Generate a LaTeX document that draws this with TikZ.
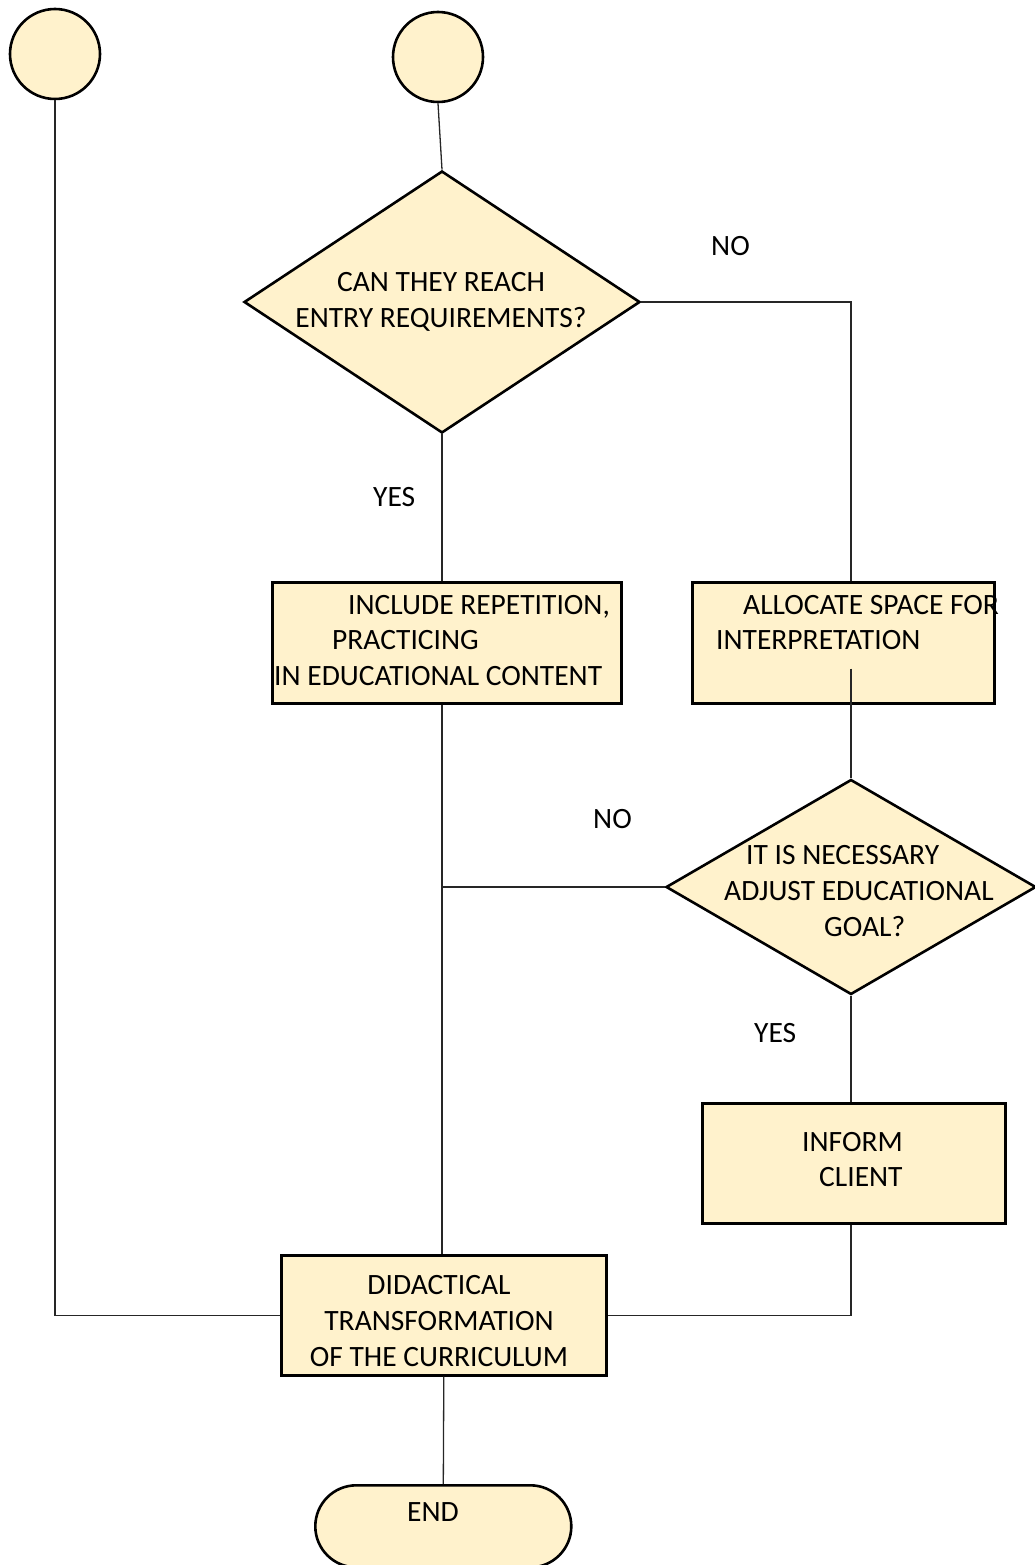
\documentclass[tikz,border=0pt]{standalone}
\usepackage{fontspec}
\setmainfont{Carlito}
\usetikzlibrary{shapes.geometric,calc}
\definecolor{boxfill}{HTML}{FFF2CC}
\begin{document}
\begin{tikzpicture}[x=1pt,y=-1pt,
  shapeline/.style={draw=black,line width=2.6pt,fill=boxfill},
  procbox/.style={shapeline,rectangle,inner sep=0pt,anchor=north west},
  decbox/.style={shapeline,diamond,inner sep=0pt},
  startcirc/.style={shapeline,circle,inner sep=0pt,minimum size=90pt},
  txt/.style={inner sep=0pt,font=\fontsize{29.5}{36}\selectfont},
  conn/.style={draw=black!85,line width=1.3pt}]
\useasboundingbox (0,0) rectangle (1035,1565);

% shapes
\node[startcirc] (c1) at (55,54) {};
\node[startcirc] (c2) at (438,57) {};
\node[decbox,minimum width=396pt,minimum height=262pt] (d1) at (442,302) {};
\node[procbox,minimum width=349pt,minimum height=121pt] (incl) at (271,581) {};
\node[procbox,minimum width=302pt,minimum height=121pt] (alloc) at (691,581) {};
\node[decbox,minimum width=370pt,minimum height=215pt] (d2) at (851,887) {};
\node[procbox,minimum width=303pt,minimum height=120pt] (inform) at (701,1102) {};
\node[procbox,minimum width=325pt,minimum height=120pt] (did) at (280,1254) {};
\node[procbox,minimum width=256pt,minimum height=82pt,rounded corners=41pt] (end) at (314,1484) {};

% connectors
\draw[conn] (c2.south) -- (d1.north);
\draw[conn] (c1.south) |- (did.west);
\draw[conn] (d1.east) -| (d2.north |- alloc.north);
\draw[conn] (d1.south) -- (d1.south |- incl.north);
\draw[conn] (incl.south -| d1.south) -- (did.north -| d1.south);
\draw[conn] (d2.west) -- (d2.west -| d1.south);
\draw[conn] ($(d2.north |- alloc.south)+(0,-36)$) -- (d2.north);
\draw[conn] (d2.south) -- (d2.south |- inform.north);
\draw[conn] (inform.south -| d2.south) |- (did.east);
\draw[conn] (did.south) -- (end.north);

% texts
\node[txt,align=center] (t1) at (441,302) {CAN THEY REACH\\ENTRY REQUIREMENTS?};
\node[txt,anchor=base west] (no1) at (711,255) {NO};
\node[txt,anchor=base west] (yes1) at (373,506) {YES};
\node[txt,anchor=base west] (ti1) at (348,614) {INCLUDE REPETITION,};
\node[txt,anchor=base west] (ti2) at (332,649) {PRACTICING};
\node[txt,anchor=base west] (ti3) at (274,685) {IN EDUCATIONAL CONTENT};
\node[txt,anchor=base west] (ta1) at (743,614) {ALLOCATE SPACE FOR};
\node[txt,anchor=base west] (ta2) at (716,649) {INTERPRETATION};
\node[txt,anchor=base west] (no2) at (593,828) {NO};
\node[txt,anchor=base west] (tn1) at (746,864) {IT IS NECESSARY};
\node[txt,anchor=base west] (tn2) at (724,900) {ADJUST EDUCATIONAL};
\node[txt,anchor=base west] (tn3) at (824,936) {GOAL?};
\node[txt,anchor=base west] (yes2) at (754,1042) {YES};
\node[txt,anchor=base west] (tf1) at (802,1151) {INFORM};
\node[txt,anchor=base west] (tf2) at (819,1186) {CLIENT};
\node[txt,align=center] (td) at (439,1321) {DIDACTICAL\\TRANSFORMATION\\OF THE CURRICULUM};
\node[txt,anchor=base west] (te) at (407,1521) {END};
\end{tikzpicture}
\end{document}
